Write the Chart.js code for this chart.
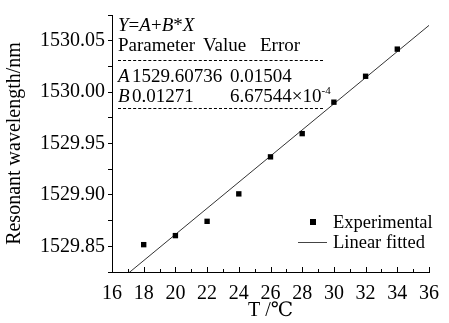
<!DOCTYPE html>
<html><head><meta charset="utf-8">
<script src="https://cdn.jsdelivr.net/npm/chart.js@4/dist/chart.umd.min.js"></script>
<style>
body{margin:0;background:#fff}
#wrap{position:relative;width:449px;height:323px;font-family:"Liberation Serif","DejaVu Serif",serif;color:#000}
canvas{position:absolute;left:0;top:0}
.t{position:absolute;font-size:19px;line-height:20px;white-space:nowrap}
.l{position:absolute;font-size:18.5px;line-height:20px;white-space:nowrap}
.d{position:absolute;border-top:1px dashed #000;height:0}
sup{font-size:11px;line-height:0;position:relative;top:-1px}
</style></head><body>
<div id="wrap">
<canvas id="c" width="449" height="323"></canvas>
<div class="t" style="left:118px;top:15px"><i>Y</i>=<i>A</i>+<i>B</i>*<i>X</i></div>
<div class="t" style="left:118px;top:35px">Parameter</div>
<div class="t" style="left:203px;top:35px">Value</div>
<div class="t" style="left:260px;top:35px">Error</div>
<div class="d" style="left:118px;top:60px;width:205px"></div>
<div class="t" style="left:118px;top:66px"><i>A</i></div>
<div class="t" style="left:132px;top:66px">1529.60736</div>
<div class="t" style="left:230px;top:66px">0.01504</div>
<div class="t" style="left:118px;top:86px"><i>B</i></div>
<div class="t" style="left:132px;top:86px">0.01271</div>
<div class="t" style="left:230px;top:86px">6.67544×10<sup>-4</sup></div>
<div class="d" style="left:118px;top:108px;width:205px"></div>
<div style="position:absolute;left:310px;top:219px;width:6px;height:6px;background:#000"></div>
<div class="l" style="left:333px;top:212px">Experimental</div>
<div style="position:absolute;left:298px;top:242px;width:29px;height:0;border-top:1px solid #444"></div>
<div class="l" style="left:333px;top:232px">Linear fitted</div>
</div>
<script>
const temps = [18, 20, 22, 24, 26, 28, 30, 32, 34];
const wavelengths = [1529.8516, 1529.8604, 1529.8743, 1529.9010, 1529.9370, 1529.9596, 1529.9902, 1530.0154, 1530.0418];
const fitX = [16, 36];
const fitY = [1529.8107, 1530.0649];
const xTickLabels = ['16','18','20','22','24','26','28','30','32','34','36'];
const yTickLabels = ['1529.85','1529.90','1529.95','1530.00','1530.05'];

const FONT = '"Liberation Serif","DejaVu Serif",serif';

const inwardTicks = {
  id: 'inwardTicks',
  afterDatasetsDraw(chart) {
    const s = chart.scales.x, ctx = chart.ctx;
    ctx.save();
    ctx.strokeStyle = '#000';
    ctx.lineWidth = 1;
    s.ticks.forEach(t => {
      const px = Math.round(s.getPixelForValue(t.value)) + 0.5;
      const len = (Math.round(t.value) % 2 === 0) ? 5 : 3;
      ctx.beginPath();
      ctx.moveTo(px, s.top);
      ctx.lineTo(px, s.top - len);
      ctx.stroke();
    });
    ctx.restore();
  }
};

new Chart(document.getElementById('c'), {
  type: 'scatter',
  data: {
    datasets: [
      {
        label: 'Experimental',
        data: temps.map((x, i) => ({x: x, y: wavelengths[i]})),
        pointStyle: 'rect',
        pointRadius: 3.8,
        backgroundColor: '#000',
        borderWidth: 0,
        showLine: false
      },
      {
        label: 'Linear fitted',
        data: fitX.map((x, i) => ({x: x, y: fitY[i]})),
        showLine: true,
        borderColor: '#333',
        borderWidth: 1,
        pointRadius: 0,
        fill: false
      }
    ]
  },
  options: {
    responsive: false,
    devicePixelRatio: 1,
    animation: false,
    layout: {padding: {top: 8, right: 15, left: 0, bottom: 0}},
    plugins: {legend: {display: false}, tooltip: {enabled: false}},
    scales: {
      x: {
        type: 'linear', min: 16, max: 36,
        afterFit: s => { s.height = 51; },
        border: {display: true, color: '#000', width: 1, dash: [2, 2]},
        grid: {drawOnChartArea: false, drawTicks: false},
        ticks: {
          stepSize: 1, autoSkip: false, maxRotation: 0, padding: 10,
          color: '#000', font: {family: FONT, size: 20},
          callback: v => { const s = String(Math.round(v)); return xTickLabels.includes(s) ? s : ''; }
        },
        title: {display: true, text: 'T /℃', color: '#000', font: {family: FONT, size: 20}, padding: {top: 0, bottom: 0}}
      },
      y: {
        type: 'linear', min: 1529.825, max: 1530.075,
        afterFit: s => { s.width = 112; },
        border: {display: true, color: '#000', width: 1, dash: [2, 2]},
        grid: {drawOnChartArea: false, drawTicks: true, tickLength: 4, color: '#000'},
        ticks: {
          stepSize: 0.025, autoSkip: false, padding: 3,
          color: '#000', font: {family: FONT, size: 20},
          callback: v => { const s = v.toFixed(2); return (Math.round(v * 1000) % 50 === 0 && yTickLabels.includes(s)) ? s : ''; }
        },
        title: {display: true, text: 'Resonant wavelength/nm', color: '#000', font: {family: FONT, size: 20}, padding: {top: 3, bottom: 0}}
      }
    }
  },
  plugins: [inwardTicks]
});
</script>
</body></html>
